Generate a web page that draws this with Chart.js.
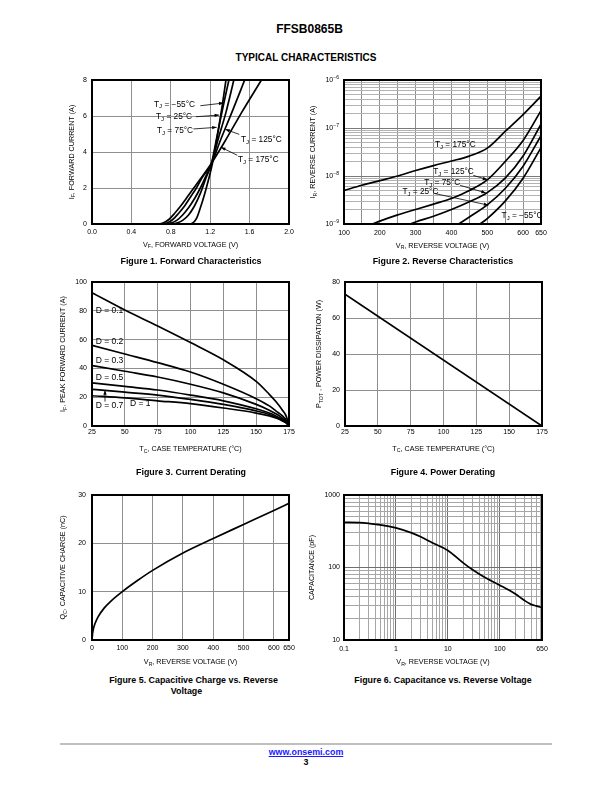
<!DOCTYPE html>
<html>
<head>
<meta charset="utf-8">
<title>FFSB0865B typical characteristics</title>
<script src="https://cdn.jsdelivr.net/npm/chart.js@4.4.1/dist/chart.umd.min.js"></script>
<style>
  body { margin: 0; background: #fff; }
  #page { position: relative; width: 612px; height: 792px; font-family: "Liberation Sans", Arial, sans-serif; color: #000; }
  #page canvas { position: absolute; }
  .txt { position: absolute; width: 400px; text-align: center; font-weight: bold; white-space: nowrap; line-height: 1; }
  .cap { font-size: 8.9px; }
</style>
</head>
<body>
<div id="page">
  <div class="txt" style="left:109.5px; top:23px; font-size:12px;">FFSB0865B</div>
  <div class="txt" style="left:106px; top:52.5px; font-size:10px;">TYPICAL CHARACTERISTICS</div>

  <canvas id="c1" width="306" height="200" style="left:0; top:60px;"></canvas>
  <canvas id="c2" width="306" height="200" style="left:306px; top:60px;"></canvas>
  <canvas id="c3" width="306" height="200" style="left:0; top:262px;"></canvas>
  <canvas id="c4" width="306" height="200" style="left:306px; top:262px;"></canvas>
  <canvas id="c5" width="306" height="200" style="left:0; top:475px;"></canvas>
  <canvas id="c6" width="306" height="200" style="left:306px; top:475px;"></canvas>

  <div class="txt cap" style="left:-9px; top:256.5px;">Figure 1. Forward Characteristics</div>
  <div class="txt cap" style="left:243px; top:256.5px;">Figure 2. Reverse Characteristics</div>
  <div class="txt cap" style="left:-9px; top:467.5px;">Figure 3. Current Derating</div>
  <div class="txt cap" style="left:243px; top:467.5px;">Figure 4. Power Derating</div>
  <div class="txt cap" style="left:-6.5px; top:676px;">Figure 5. Capacitive Charge vs. Reverse</div>
  <div class="txt cap" style="left:-13.5px; top:687px;">Voltage</div>
  <div class="txt cap" style="left:243px; top:675.5px;">Figure 6. Capacitance vs. Reverse Voltage</div>

  <div style="position:absolute; left:60px; top:743px; width:492px; height:2px; background:#bfbfbf;"></div>
  <div class="txt cap" style="left:106px; top:748px; color:#1a1aff; text-decoration:underline;">www.onsemi.com</div>
  <div class="txt cap" style="left:106px; top:758px;">3</div>
</div>

<script>
// ---- Figure 1: forward characteristics (V, A) ----
const vfM55 = [0, 0.98, 1.02, 1.06, 1.10, 1.14, 1.18, 1.22, 1.27, 1.32, 1.36];
const ifM55 = [0, 0, 0.05, 0.3, 0.9, 1.6, 2.4, 3.3, 4.8, 6.5, 8];
const vf25 = [0, 0.80, 0.86, 0.92, 0.98, 1.04, 1.10, 1.16, 1.21, 1.27, 1.33, 1.39];
const if25 = [0, 0, 0.05, 0.2, 0.5, 1.0, 1.7, 2.6, 3.3, 4.9, 6.5, 8];
const vf75 = [0, 0.74, 0.80, 0.86, 0.92, 0.98, 1.04, 1.10, 1.16, 1.21, 1.28, 1.36, 1.44];
const if75 = [0, 0, 0.05, 0.2, 0.5, 0.9, 1.4, 2.0, 2.7, 3.3, 4.7, 6.2, 8];
const vf125 = [0, 0.70, 0.76, 0.82, 0.88, 0.94, 1.00, 1.06, 1.12, 1.21, 1.30, 1.42, 1.55];
const if125 = [0, 0, 0.05, 0.25, 0.6, 1.0, 1.5, 2.0, 2.6, 3.3, 4.6, 6.2, 8];
const vf175 = [0, 0.66, 0.72, 0.78, 0.84, 0.90, 0.96, 1.02, 1.10, 1.21, 1.35, 1.52, 1.72];
const if175 = [0, 0, 0.05, 0.25, 0.6, 1.0, 1.45, 1.9, 2.5, 3.35, 4.6, 6.2, 8];

// ---- Figure 2: reverse characteristics (V, A) ----
const vr175 = [100, 150, 200, 250, 300, 350, 400, 450, 500, 550, 600, 650];
const ir175 = [5.0e-9, 6.4e-9, 8.0e-9, 1.0e-8, 1.3e-8, 1.65e-8, 2.05e-8, 2.6e-8, 3.8e-8, 8.5e-8, 1.9e-7, 4.6e-7];
const vr125 = [180, 200, 250, 300, 350, 400, 450, 500, 550, 600, 650];
const ir125 = [1.0e-9, 1.15e-9, 1.55e-9, 2.0e-9, 2.6e-9, 3.4e-9, 5.0e-9, 8.3e-9, 2.0e-8, 5.5e-8, 2.3e-7];
const vr75 = [285, 300, 350, 400, 450, 500, 550, 600, 650];
const ir75 = [1.0e-9, 1.1e-9, 1.45e-9, 2.0e-9, 2.9e-9, 4.5e-9, 9.0e-9, 2.6e-8, 1.2e-7];
const vr25 = [420, 450, 500, 550, 600, 650];
const ir25 = [1.0e-9, 1.4e-9, 2.5e-9, 5.5e-9, 1.6e-8, 6.9e-8];
const vrM55 = [480, 500, 550, 600, 650];
const irM55 = [1.0e-9, 1.3e-9, 3.0e-9, 9.0e-9, 3.9e-8];

// ---- Figure 3: current derating (degC, A) ----
const tcD = [25, 50, 75, 100, 125, 150, 160, 165, 170, 173, 175];
const ifD01 = [92.5, 80.5, 69.5, 58, 46, 31, 22, 17, 11, 6.5, 0];
const ifD02 = [56, 50, 44, 37.5, 29, 19, 14, 10.5, 7, 4, 0];
const ifD03 = [42, 38, 34, 29, 23, 15, 11, 8.5, 5.5, 3, 0];
const ifD05 = [30, 27.5, 25, 21.5, 17.5, 12, 9, 7, 4.5, 2.5, 0];
const ifD07 = [25.5, 23.5, 21.5, 18.5, 15, 10.5, 8, 6, 4, 2.2, 0];
const ifD1 = [21, 19.5, 17.5, 15.5, 12.5, 9, 7, 5.5, 3.5, 2, 0];

// ---- Figure 4: power derating (degC, W) ----
const tcP = [25, 175];
const ptot = [73.2, 0];

// ---- Figure 5: capacitive charge (V, nC) ----
const vrQ = [0, 2, 5, 10, 20, 40, 60, 100, 150, 200, 300, 400, 500, 600, 650];
const qc = [0, 1.4, 2.4, 3.4, 4.8, 6.6, 7.9, 10, 12.3, 14.4, 18, 21, 23.9, 26.8, 28.3];

// ---- Figure 6: capacitance (V, pF) ----
const vrC = [0.1, 0.2, 0.3, 0.5, 1, 2, 3, 5, 10, 20, 30, 50, 100, 200, 300, 400, 500, 650];
const capPf = [420, 415, 405, 388, 352, 300, 265, 220, 172, 115, 93, 74, 57, 43, 35, 31, 29.5, 28];

// tick labels
const vrTicks5 = [0, 100, 200, 300, 400, 500, 600, 650];
const vrLabels6 = [0.1, 1, 10, 100, 650];
const capLabels6 = [10, 100, 1000];
const irLabels2 = [1e-9, 1e-8, 1e-7, 1e-6];

const FONT = '"Liberation Sans", Arial, sans-serif';
const GRID = '#8f8f8f';
const YAXIS_W = 30;   // fixed width of the y tick band
const XAXIS_H = 18;   // fixed height of the x tick band
Chart.defaults.font.family = FONT;
Chart.defaults.color = '#000';

function fontOf(size) { return size + 'px ' + FONT; }

// parts: [text, 0 normal | 1 subscript | 2 superscript]
function drawRich(ctx, parts, x, y, size, align) {
  const sizes = parts.map(p => p[1] ? size * 0.72 : size);
  let w = 0;
  parts.forEach((p, i) => { ctx.font = fontOf(sizes[i]); w += ctx.measureText(p[0]).width; });
  let cx = align === 'center' ? x - w / 2 : align === 'right' ? x - w : x;
  ctx.textBaseline = 'middle';
  ctx.textAlign = 'left';
  ctx.fillStyle = '#000';
  parts.forEach((p, i) => {
    ctx.font = fontOf(sizes[i]);
    const dy = p[1] === 1 ? size * 0.3 : p[1] === 2 ? -size * 0.4 : 0;
    ctx.fillText(p[0], cx, y + dy);
    cx += ctx.measureText(p[0]).width;
  });
}

function arrow(ctx, x1, y1, x2, y2) {
  ctx.strokeStyle = '#000';
  ctx.fillStyle = '#000';
  ctx.lineWidth = 0.8;
  ctx.beginPath(); ctx.moveTo(x1, y1); ctx.lineTo(x2, y2); ctx.stroke();
  const a = Math.atan2(y2 - y1, x2 - x1), L = 4.5, W = 1.7;
  ctx.beginPath();
  ctx.moveTo(x2, y2);
  ctx.lineTo(x2 - L * Math.cos(a) + W * Math.sin(a), y2 - L * Math.sin(a) - W * Math.cos(a));
  ctx.lineTo(x2 - L * Math.cos(a) - W * Math.sin(a), y2 - L * Math.sin(a) + W * Math.cos(a));
  ctx.closePath(); ctx.fill();
}

// frame, axis titles, curve notes
function decorPlugin(d) {
  return {
    id: 'decor',
    afterDraw(chart) {
      const { ctx, chartArea: a } = chart;
      const sx = chart.scales.x, sy = chart.scales.y;
      ctx.save();
      (d.notes || []).forEach(n => {
        drawRich(ctx, n.text, sx.getPixelForValue(n.at[0]), sy.getPixelForValue(n.at[1]), n.size || 8.3, 'left');
        if (n.arrow) arrow(ctx, sx.getPixelForValue(n.arrow[0]), sy.getPixelForValue(n.arrow[1]),
                               sx.getPixelForValue(n.arrow[2]), sy.getPixelForValue(n.arrow[3]));
      });
      if (d.yLabels) d.yLabels.forEach(l => drawRich(ctx, l[1], a.left - 5, sy.getPixelForValue(l[0]), 7, 'right'));
      ctx.strokeStyle = '#000';
      ctx.lineWidth = 2;
      ctx.strokeRect(a.left, a.top, a.right - a.left, a.bottom - a.top);
      drawRich(ctx, d.xTitle, (a.left + a.right) / 2, a.bottom + d.xGap, 7.2, 'center');
      ctx.translate(a.left - d.yGap, (a.top + a.bottom) / 2);
      ctx.rotate(-Math.PI / 2);
      drawRich(ctx, d.yTitle, 0, 0, 7.2, 'center');
      ctx.restore();
    }
  };
}

function isDecade(v) { const l = Math.log10(v); return Math.abs(l - Math.round(l)) < 1e-6; }
function near(v, list) { return list.some(m => Math.abs(v - m) / m < 1e-6); }

function logTicks(lo, hi, extra) {
  const out = [];
  for (let e = Math.floor(Math.log10(lo)); e <= Math.ceil(Math.log10(hi)); e++) {
    for (let k = 1; k <= 9; k++) {
      const v = k * Math.pow(10, e);
      if (v >= lo * 0.999 && v <= hi * 1.001) out.push(v);
    }
  }
  return out.concat(extra || []);
}

function axis(pos, p) {
  const ax = {
    type: p.type || 'linear', position: pos, min: p.min, max: p.max,
    border: { display: false },
    grid: { color: p.grid || GRID, lineWidth: 1, drawTicks: false },
    ticks: { font: { size: 7 }, color: '#000', padding: p.pad, autoSkip: false,
             maxRotation: 0, minRotation: 0, display: !p.hide },
    afterFit: s => { if (pos === 'bottom') s.height = XAXIS_H; else s.width = YAXIS_W; }
  };
  if (p.step) ax.ticks.stepSize = p.step;
  if (p.label) ax.ticks.callback = p.label;
  if (p.values) ax.afterBuildTicks = s => { s.ticks = p.values.map(v => ({ value: v })); };
  return ax;
}

function line(xs, ys) {
  return { data: xs.map((x, i) => ({ x: x, y: ys[i] })), borderColor: '#000', borderWidth: 1.7,
           pointRadius: 0, fill: false, cubicInterpolationMode: 'monotone' };
}

// plot box in canvas pixels: left, top, right, bottom
function makeChart(id, box, datasets, xAxis, yAxis, deco) {
  const cv = document.getElementById(id);
  const pad = { left: box[0] - YAXIS_W, top: box[1], right: cv.width - box[2], bottom: cv.height - box[3] - XAXIS_H };
  return new Chart(cv, {
    type: 'line',
    data: { datasets: datasets },
    options: {
      responsive: false, animation: false, devicePixelRatio: 1, events: [],
      layout: { padding: pad },
      plugins: { legend: { display: false }, tooltip: { enabled: false } },
      scales: { x: xAxis, y: yAxis }
    },
    plugins: [decorPlugin(deco)]
  });
}

const tj = t => [['T', 0], ['J', 1], [' = ' + t, 0]];
const sub = (a, b, c) => [[a, 0], [b, 1], [c, 0]];

// Figure 1
makeChart('c1', [92, 20, 289, 164],
  [line(vfM55, ifM55), line(vf25, if25), line(vf75, if75), line(vf125, if125), line(vf175, if175)],
  axis('bottom', { min: 0, max: 2, step: 0.4, pad: 4, label: v => v.toFixed(1) }),
  axis('left', { min: 0, max: 8, step: 2, pad: 5 }),
  { xTitle: sub('V', 'F', ', FORWARD VOLTAGE (V)'), xGap: 20.7,
    yTitle: sub('I', 'F', ', FORWARD CURRENT (A)'), yGap: 20.3,
    notes: [
      { text: tj('\u221255\u00b0C'), at: [0.63, 6.65], arrow: [1.10, 6.57, 1.335, 6.72] },
      { text: tj('25\u00b0C'), at: [0.65, 5.96], arrow: [1.055, 5.96, 1.29, 6.05] },
      { text: tj('75\u00b0C'), at: [0.66, 5.17], arrow: [1.03, 5.28, 1.266, 5.37] },
      { text: tj('125\u00b0C'), at: [1.513, 4.67], arrow: [1.495, 4.98, 1.353, 5.26] },
      { text: tj('175\u00b0C'), at: [1.482, 3.56], arrow: [1.475, 3.82, 1.31, 4.26] }
    ] });

// Figure 2
makeChart('c2', [38, 20, 235, 164],
  [line(vr175, ir175), line(vr125, ir125), line(vr75, ir75), line(vr25, ir25), line(vrM55, irM55)],
  axis('bottom', { min: 100, max: 650, step: 50, pad: 5, label: v => (v % 100 === 0 || v === 650) ? String(v) : '' }),
  axis('left', { type: 'logarithmic', min: 1e-9, max: 1e-6, hide: true, values: logTicks(1e-9, 1e-6),
                 grid: c => isDecade(c.tick.value) ? '#7a7a7a' : '#b3b3b3' }),
  { xTitle: sub('V', 'R', ', REVERSE VOLTAGE (V)'), xGap: 21.7,
    yTitle: sub('I', 'R', ', REVERSE CURRENT (A)'), yGap: 30.5,
    yLabels: irLabels2.map(v => [v, [['10', 0], ['\u2212' + Math.round(-Math.log10(v)), 2]]]),
    notes: [
      { text: tj('175\u00b0C'), at: [354, 4.4e-8] },
      { text: tj('125\u00b0C'), at: [349, 1.21e-8], arrow: [461, 1.03e-8, 500, 8.4e-9] },
      { text: tj('75\u00b0C'), at: [324, 7.3e-9], arrow: [424, 6.4e-9, 496, 4.45e-9] },
      { text: tj('25\u00b0C'), at: [263, 4.66e-9], arrow: [354, 4.3e-9, 503, 2.47e-9] },
      { text: tj('\u221255\u00b0C'), at: [540, 1.49e-9] }
    ] });

// Figure 3
makeChart('c3', [92, 20, 289, 164],
  [line(tcD, ifD01), line(tcD, ifD02), line(tcD, ifD03), line(tcD, ifD05), line(tcD, ifD07), line(tcD, ifD1)],
  axis('bottom', { min: 25, max: 175, step: 25, pad: 1.5 }),
  axis('left', { min: 0, max: 100, step: 20, pad: 5 }),
  { xTitle: sub('T', 'C', ', CASE TEMPERATURE (\u00b0C)'), xGap: 23,
    yTitle: sub('I', 'F', ', PEAK FORWARD CURRENT (A)'), yGap: 29,
    notes: [
      { text: [['D = 0.1', 0]], at: [27.8, 79.9], size: 8.5 },
      { text: [['D = 0.2', 0]], at: [27.8, 58.5], size: 8.5 },
      { text: [['D = 0.3', 0]], at: [27.8, 45.1], size: 8.5 },
      { text: [['D = 0.5', 0]], at: [27.8, 33.5], size: 8.5 },
      { text: [['D = 0.7', 0]], at: [27.8, 13.9], size: 8.5, arrow: [34.9, 17.0, 34.9, 24.8] },
      { text: [['D = 1', 0]], at: [53.9, 15.8], size: 8.5 }
    ] });

// Figure 4
makeChart('c4', [39, 20, 236, 164],
  [line(tcP, ptot)],
  axis('bottom', { min: 25, max: 175, step: 25, pad: 2.2 }),
  axis('left', { min: 0, max: 80, step: 20, pad: 5 }),
  { xTitle: sub('T', 'C', ', CASE TEMPERATURE (\u00b0C)'), xGap: 22.7,
    yTitle: sub('P', 'TOT', ' , POWER DISSIPATION (W)'), yGap: 26 });

// Figure 5
makeChart('c5', [92, 20, 289, 165],
  [line(vrQ, qc)],
  axis('bottom', { min: 0, max: 650, pad: 3.4, values: vrTicks5 }),
  axis('left', { min: 0, max: 30, step: 10, pad: 6 }),
  { xTitle: sub('V', 'R', ', REVERSE VOLTAGE (V)'), xGap: 22.3,
    yTitle: sub('Q', 'C', ', CAPACITIVE CHARGE (nC)'), yGap: 28.5 });

// Figure 6
makeChart('c6', [38, 20, 236, 165],
  [line(vrC, capPf)],
  axis('bottom', { type: 'logarithmic', min: 0.1, max: 650, pad: 4.4, values: logTicks(0.1, 600, [650]),
                   label: v => near(v, vrLabels6) ? String(v) : '',
                   grid: c => isDecade(c.tick.value) ? '#6e6e6e' : '#a6a6a6' }),
  axis('left', { type: 'logarithmic', min: 10, max: 1000, pad: 4, values: logTicks(10, 1000),
                 label: v => near(v, capLabels6) ? String(v) : '',
                 grid: c => isDecade(c.tick.value) ? '#6e6e6e' : '#a6a6a6' }),
  { xTitle: sub('V', 'R', ', REVERSE VOLTAGE (V)'), xGap: 22.3,
    yTitle: [['CAPACITANCE (pF)', 0]], yGap: 32.3 });
</script>
</body>
</html>
